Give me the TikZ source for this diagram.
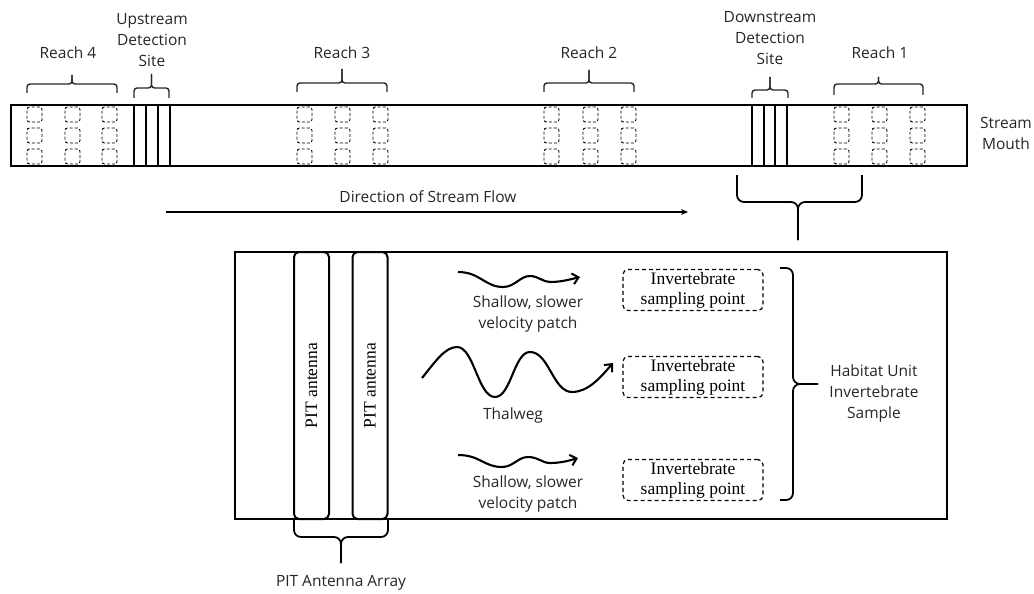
\documentclass[tikz,border=0pt]{standalone}
\usepackage{fontspec}
\setmainfont{Liberation Serif}
\setsansfont{Open Sans}
\usetikzlibrary{arrows.meta}

\begin{document}
\begin{tikzpicture}[
    x=1pt,y=-1pt,
    every node/.style={font=\sffamily\fontsize{15.5}{21}\selectfont,text=black!85},
    lbl/.style={align=center,inner sep=0pt},
    frame/.style={line width=2.4pt},
    site/.style={line width=2pt},
    spot/.style={draw,line width=0.9pt,dash pattern=on 3pt off 2pt,rounded corners=2.5pt,
                 minimum width=15pt,minimum height=15pt,inner sep=0pt},
    brk/.style={line width=1.4pt,rounded corners=3pt,black!85},
    bigbrk/.style={line width=1.8pt,rounded corners=7pt},
    pit/.style={draw,line width=2pt,rounded corners=5pt,minimum width=267pt,
                minimum height=35pt,inner sep=0pt,text=black,
                font=\rmfamily\fontsize{17.5}{21}\selectfont},
    invbox/.style={draw,line width=1.2pt,dash pattern=on 4pt off 3pt,rounded corners=5pt,
                   minimum width=140pt,minimum height=41pt,inner sep=0pt,align=center,
                   text=black,font=\rmfamily\fontsize{17.5}{20}\selectfont},
    wave/.style={-{Straight Barb[length=6pt,width=11pt,line width=2pt]},line width=2.1pt},
    flow/.style={-{Stealth[length=7pt,width=6pt]},line width=1.6pt},
  ]
  \useasboundingbox (0,0) rectangle (1034,594);

  % -- the stream, with its sampling spots and the two sites --
  \draw[frame] (11,105) rectangle (967,166);
  \foreach \x [count=\i] in {27,65,102,297,335,373,544,583,621,834,872,910}
    \foreach \y [count=\j] in {114.5,135.5,156.5}
      \node[spot] (s\i-\j) at (\x+7.5,\y) {};
  \foreach \x in {134,158,752,775}
    \draw[site] (\x,105) rectangle +(12,61);

  % -- brackets over the reaches and sites --
  \foreach \a/\b/\h/\d/\t in {27/117/84/9/75, 134/169/88/10/74, 297/387/83/9/69,
                               544/634/83/9/70, 752/788/90/8/77, 834/923/84/11/77}{%
    \draw[brk] (\a,\h+\d) -- (\a,\h) -- ({(\a+\b)/2},\h) -- ({(\a+\b)/2},\t);
    \draw[brk] (\b,\h+\d) -- (\b,\h) -- ({(\a+\b)/2},\h) -- ({(\a+\b)/2},\t);
  }
  \node[lbl] (r4) at (68,53) {Reach 4};
  \node[lbl] (up) at (152,40) {Upstream\\Detection\\Site};
  \node[lbl] (r3) at (342,53) {Reach 3};
  \node[lbl] (r2) at (589,53) {Reach 2};
  \node[lbl] (down) at (770,38) {Downstream\\Detection\\Site};
  \node[lbl] (r1) at (880,53) {Reach 1};
  \node[lbl] (mouth) at (1006,133) {Stream\\Mouth};

  % -- direction of flow --
  \coordinate (flowA) at (166,212);
  \coordinate (flowB) at (688,212);
  \draw[flow] (flowA) -- (flowB);
  \node[lbl] (flowlbl) at (428,197) {Direction of Stream Flow};

  % -- the close-up of the downstream site --
  \draw[bigbrk] (737,175) -- (737,202) -- (798,202) -- (798,240);
  \draw[bigbrk] (862,175) -- (862,202) -- (798,202) -- (798,240);
  \draw[frame] (235,252) rectangle (947,519);
  \node[pit,rotate=90] (pit1) at (311.5,385.5) {PIT antenna};
  \node[pit,rotate=90] (pit2) at (370,385.5) {PIT antenna};
  \draw[bigbrk] (294,519) -- (294,537) -- (341,537) -- (341,563);
  \draw[bigbrk] (388,519) -- (388,537) -- (341,537) -- (341,563);
  \node[lbl] (array) at (341,583) {PIT Antenna Array};

  % -- flow paths --
  \draw[wave] (458,272) .. controls (480,272) and (485,287) .. (503,287)
              .. controls (515,287) and (520,276) .. (530,276)
              .. controls (538,276) and (543,282) .. (550,282)
              .. controls (560,282) and (568,280) .. (580,277);
  \draw[wave] (422,378) .. controls (435,362) and (445,347) .. (457,347)
              .. controls (474,347) and (478,397) .. (495,397)
              .. controls (511,397) and (514,352) .. (530,352)
              .. controls (549,352) and (553,392) .. (572,392)
              .. controls (588,392) and (600,378) .. (613,363);
  \draw[wave] (458,455) .. controls (480,455) and (484,467) .. (502,467)
              .. controls (513,467) and (518,457) .. (528,457)
              .. controls (538,457) and (542,463) .. (550,463)
              .. controls (560,463) and (568,461) .. (578,458);
  \node[lbl] (shal1) at (528,314) {Shallow, slower\\velocity patch};
  \node[lbl] (thal) at (513,415) {Thalweg};
  \node[lbl] (shal2) at (528,494) {Shallow, slower\\velocity patch};

  % -- invertebrate samples --
  \node[invbox] (inv1) at (693,290) {Invertebrate\\sampling point};
  \node[invbox] (inv2) at (693,377) {Invertebrate\\sampling point};
  \node[invbox] (inv3) at (693,480) {Invertebrate\\sampling point};
  \draw[bigbrk] (780,268) -- (793,268) -- (793,384) -- (818,384);
  \draw[bigbrk] (780,500) -- (793,500) -- (793,384) -- (818,384);
  \node[lbl] (hab) at (874,393) {Habitat Unit\\Invertebrate\\Sample};
\end{tikzpicture}
\end{document}
